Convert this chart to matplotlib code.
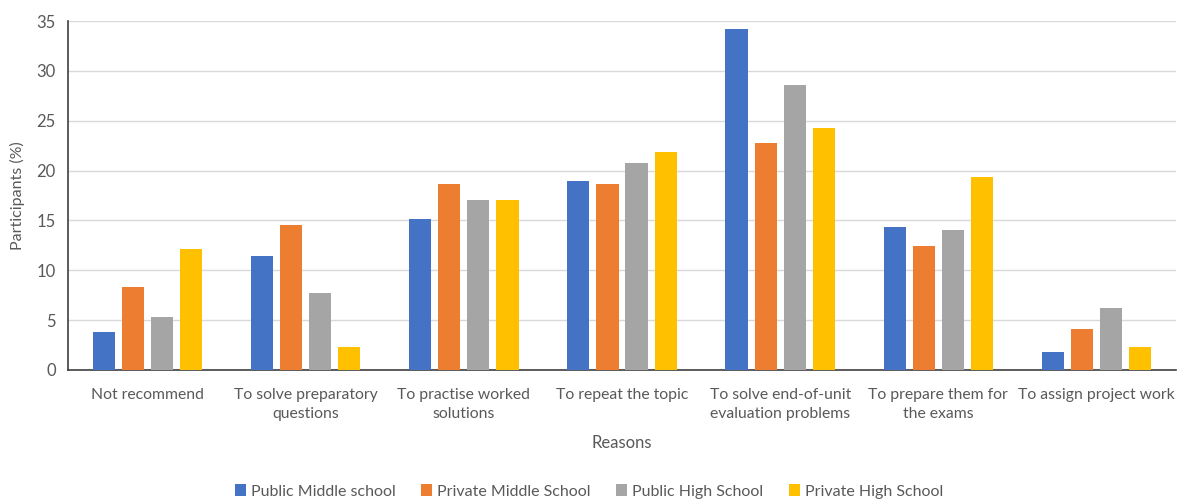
import matplotlib
matplotlib.use("Agg")
import matplotlib.pyplot as plt
import numpy as np

plt.rcParams['font.family'] = ['Lato', 'DejaVu Sans']
plt.rc("font", size=11.5)

reasons = ["Not recommend", "To solve preparatory\nquestions", "To practise worked\nsolutions",
           "To repeat the topic", "To solve end-of-unit\nevaluation problems",
           "To prepare them for\nthe exams", "To assign project work"]
groups = ["Public Middle school", "Private Middle School", "Public High School", "Private High School"]
public_middle = [3.8, 11.4, 15.1, 19.0, 34.2, 14.3, 1.8]
private_middle = [8.3, 14.5, 18.7, 18.7, 22.8, 12.4, 4.1]
public_high = [5.3, 7.7, 17.0, 20.8, 28.6, 14.0, 6.2]
private_high = [12.1, 2.3, 17.0, 21.9, 24.3, 19.4, 2.3]
colors = ["#4472c4", "#ed7d31", "#a5a5a5", "#ffc000"]

fig = plt.figure(figsize=(11.78, 5), dpi=100)
ax = fig.add_axes([0.058, 0.26, 0.94, 0.698])

x = np.arange(len(reasons))
w = 0.14
pitch = 0.184
series = [public_middle, private_middle, public_high, private_high]
for i, (vals, lab, c) in enumerate(zip(series, groups, colors)):
    ax.bar(x + (i - 1.5) * pitch, vals, w, color=c, label=lab, zorder=3)

ax.set_xlim(-0.5, len(reasons) - 0.5)
ax.set_ylim(0, 35)
ax.set_yticks(range(0, 36, 5))
ax.set_xticks(x)
ax.set_xticklabels(reasons, color="#595959", fontsize=11.3, linespacing=1.45)
ax.tick_params(axis='y', colors="#595959", labelsize=12, length=0, pad=9)
ax.tick_params(axis='x', length=0, pad=13)
ax.grid(axis='y', color="#d9d9d9", linewidth=1, zorder=0)
for s in ['top', 'right']:
    ax.spines[s].set_visible(False)
ax.spines['left'].set_color("#404040")
ax.spines['bottom'].set_color("#404040")
ax.spines['left'].set_linewidth(1.2)
ax.spines['bottom'].set_linewidth(1.2)

ax.set_ylabel("Participants (%)", color="#595959", fontsize=11.5, labelpad=8)
ax.set_xlabel("Reasons", color="#595959", fontsize=12, labelpad=10)

fig.legend(loc='center', bbox_to_anchor=(0.5, 0.017), ncol=4, frameon=False,
           handlelength=0.7, handleheight=0.7, handletextpad=0.3, columnspacing=1.6,
           labelcolor="#595959", fontsize=11.5)

plt.savefig('out.png', dpi=100)
plt.close(fig)
